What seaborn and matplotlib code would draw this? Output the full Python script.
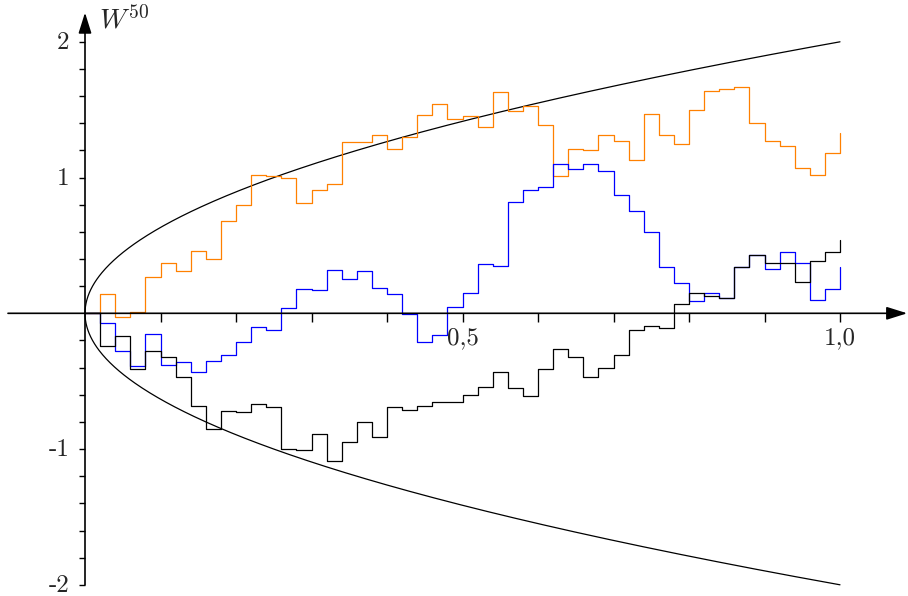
"""
Three Brownian paths W^50 (step functions on a 1/50 grid) between +-2*sqrt(t).
"""
import matplotlib
matplotlib.use("Agg")
import matplotlib.pyplot as plt
import numpy as np
import pandas as pd
import seaborn as sns

N_STEPS = 50

# values W(k/50), k = 0..50
orange_path = [
    0.0, 0.14, -0.025, 0.01, 0.27, 0.37, 0.31, 0.46, 0.40, 0.68, 0.80,
    1.02, 1.01, 1.00, 0.81, 0.91, 0.95, 1.26, 1.26, 1.31, 1.21,
    1.30, 1.46, 1.54, 1.43, 1.45, 1.37, 1.63, 1.49, 1.53, 1.39,
    1.01, 1.21, 1.20, 1.31, 1.27, 1.13, 1.47, 1.31, 1.25, 1.50,
    1.64, 1.65, 1.67, 1.40, 1.27, 1.23, 1.07, 1.02, 1.18, 1.33,
]
blue_path = [
    0.0, -0.07, -0.28, -0.39, -0.15, -0.38, -0.36, -0.43, -0.35, -0.31, -0.21,
    -0.10, -0.12, 0.04, 0.18, 0.17, 0.32, 0.25, 0.31, 0.19, 0.14,
    -0.005, -0.21, -0.16, 0.05, 0.15, 0.36, 0.35, 0.82, 0.91, 0.93,
    1.10, 1.06, 1.10, 1.05, 0.87, 0.75, 0.60, 0.34, 0.22, 0.09,
    0.15, 0.11, 0.34, 0.43, 0.33, 0.45, 0.37, 0.10, 0.18, 0.34,
]
black_path = [
    0.0, -0.24, -0.17, -0.41, -0.28, -0.32, -0.47, -0.68, -0.85, -0.72, -0.73,
    -0.67, -0.69, -1.00, -1.01, -0.89, -1.09, -0.95, -0.80, -0.91, -0.69,
    -0.71, -0.68, -0.65, -0.65, -0.60, -0.54, -0.43, -0.55, -0.61, -0.41,
    -0.26, -0.32, -0.47, -0.40, -0.31, -0.12, -0.09, -0.11, 0.07, 0.15,
    0.125, 0.11, 0.34, 0.43, 0.37, 0.37, 0.23, 0.385, 0.45, 0.54,
]
path_colors = {"orange": "#ff8000", "blue": "#0000ff", "black": "#000000"}

x_ticks = [0.1, 0.2, 0.3, 0.4, 0.5, 0.6, 0.7, 0.8, 0.9, 1.0]
x_tick_labels = {0.5: "0,5", 1.0: "1,0"}
y_ticks = [round(0.2 * i, 1) for i in range(-10, 11) if i != 0]
y_tick_labels = {2: "2", 1: "1", -1: "-1", -2: "-2"}
y_label = r"$W^{50}$"

sns.set_theme(style="white")
plt.rcParams["mathtext.fontset"] = "cm"
plt.rcParams["font.family"] = ["cmr10", "DejaVu Serif"]

fig = plt.figure(figsize=(9.08, 5.96), dpi=100)
ax = fig.add_axes([0, 0, 1, 1])
ax.set_xlim(-85 / 755, 823 / 755)
ax.set_ylim(-2.0825, 2.308)
ax.axis("off")

# bounds +-2 sqrt(t)
yy = np.linspace(-2, 2, 801)
ax.plot(yy ** 2 / 4, yy, color="black", lw=0.9, zorder=2)

frames = []
for name, vals in [("orange", orange_path), ("blue", blue_path),
                   ("black", black_path)]:
    frames.append(pd.DataFrame({
        "t": np.arange(len(vals)) / N_STEPS, "W": vals, "path": name
    }))
df = pd.concat(frames, ignore_index=True)

sns.lineplot(
    data=df, x="t", y="W", hue="path", hue_order=list(path_colors),
    palette=path_colors, drawstyle="steps-post", estimator=None,
    legend=False, linewidth=0.9, ax=ax, zorder=3
)

# axes with arrows
arrow = dict(arrowstyle="-|>,head_length=0.7,head_width=0.22", lw=1.2,
             color="black", shrinkA=0, shrinkB=0, mutation_scale=18)
ax.annotate("", xy=(1.089, 0), xytext=(-0.102, 0), arrowprops=arrow,
            zorder=4)
ax.annotate("", xy=(0, 2.215), xytext=(0, -2.0), arrowprops=arrow, zorder=4)

ax.vlines(x_ticks, -0.061, 0, color="black", lw=1.0, zorder=4)
ax.hlines(y_ticks, -0.008, 0, color="black", lw=1.0, zorder=4)

for xv, lab in x_tick_labels.items():
    ax.text(xv, -0.228, lab, ha="center", va="baseline", fontsize=18)
for yv, lab in y_tick_labels.items():
    ax.text(-0.021, yv - 0.052, lab, ha="right", va="baseline", fontsize=18)
ax.text(0.019, 2.099, y_label, ha="left", va="baseline", fontsize=20)

fig.savefig("out.png", dpi=100)
